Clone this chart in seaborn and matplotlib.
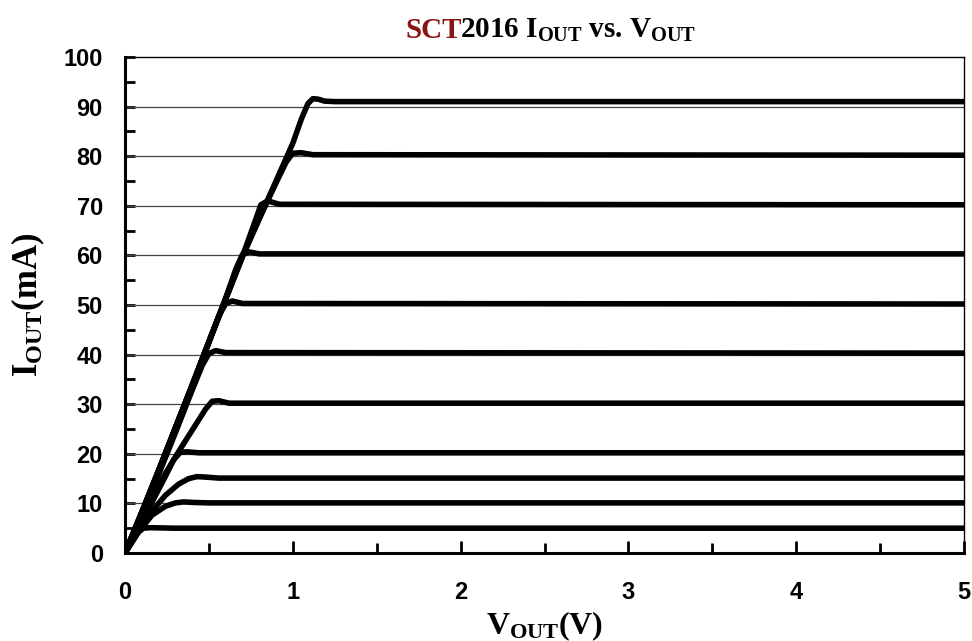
"""
Curvas I_OUT x V_OUT do SCT2016, uma curva por corrente de saída.
"""

import pandas as pd
import seaborn as sns
import matplotlib.pyplot as plt
from matplotlib.ticker import MultipleLocator

# pontos: tensão (V) e corrente (mA) de cada curva
v_05 = [0, 0.04, 0.08, 0.11, 0.15, 0.3, 5]
i_05 = [0, 2.2, 4.2, 5.0, 5.1, 5.0, 5.0]

v_10 = [0, 0.08, 0.16, 0.24, 0.30, 0.35, 0.40, 0.50, 5]
i_10 = [0, 4.2, 7.6, 9.4, 10.1, 10.3, 10.2, 10.1, 10.1]

v_15 = [0, 0.08, 0.16, 0.24, 0.32, 0.38, 0.43, 0.48, 0.56, 5]
i_15 = [0, 4.4, 8.4, 11.6, 13.9, 15.0, 15.4, 15.3, 15.1, 15.1]

v_20 = [0, 0.08, 0.16, 0.24, 0.29, 0.33, 0.37, 0.44, 5]
i_20 = [0, 5.0, 10.2, 15.4, 18.8, 20.3, 20.4, 20.2, 20.2]

v_30 = [0, 0.08, 0.16, 0.24, 0.33, 0.42, 0.48, 0.52, 0.56, 0.62, 5]
i_30 = [0, 5.4, 10.8, 16.0, 21.0, 25.8, 29.0, 30.6, 30.7, 30.2, 30.2]

v_40 = [0, 0.1, 0.2, 0.3, 0.4, 0.46, 0.50, 0.54, 0.60, 5]
i_40 = [0, 7.6, 15.8, 24.2, 32.8, 37.8, 40.2, 40.8, 40.4, 40.3]

v_50 = [0, 0.1, 0.2, 0.3, 0.4, 0.5, 0.56, 0.60, 0.64, 0.70, 5]
i_50 = [0, 8.0, 16.4, 25.0, 33.6, 42.4, 47.8, 50.3, 50.8, 50.3, 50.2]

v_60 = [0, 0.1, 0.2, 0.3, 0.4, 0.5, 0.6, 0.66, 0.70, 0.74, 0.80, 5]
i_60 = [0, 8.2, 16.6, 25.2, 33.8, 42.6, 51.4, 57.2, 60.2, 60.7, 60.3, 60.3]

v_70 = [0, 0.1, 0.2, 0.3, 0.4, 0.5, 0.6, 0.7, 0.77, 0.81, 0.85, 0.92, 5]
i_70 = [0, 8.2, 16.6, 25.2, 33.8, 42.6, 51.2, 59.8, 66.4, 70.2, 71.0, 70.3, 70.2]

v_80 = [0, 0.1, 0.2, 0.3, 0.4, 0.5, 0.6, 0.7, 0.8, 0.9, 0.96, 1.00, 1.05, 1.12, 5]
i_80 = [0, 8.2, 16.6, 25.2, 33.8, 42.6, 51.2, 59.8, 67.4, 74.6, 78.8, 80.6, 80.7, 80.3, 80.2]

v_90 = [0, 0.1, 0.2, 0.3, 0.4, 0.5, 0.6, 0.7, 0.8, 0.9, 1.0, 1.05, 1.09, 1.12, 1.15, 1.19, 1.25, 5]
i_90 = [0, 8.2, 16.6, 25.2, 33.8, 42.6, 51.2, 59.8, 67.4, 75.0, 82.6, 87.4, 90.6, 91.6, 91.5, 91.1, 91.0, 91.0]

curvas = {
    "5": (v_05, i_05), "10": (v_10, i_10), "15": (v_15, i_15),
    "20": (v_20, i_20), "30": (v_30, i_30), "40": (v_40, i_40),
    "50": (v_50, i_50), "60": (v_60, i_60), "70": (v_70, i_70),
    "80": (v_80, i_80), "90": (v_90, i_90),
}

x_ticks = [0, 1, 2, 3, 4, 5]
y_ticks = [0, 10, 20, 30, 40, 50, 60, 70, 80, 90, 100]


def montar_df():
    linhas = []
    for nome, (vs, cs) in curvas.items():
        for v, c in zip(vs, cs):
            linhas.append({"curva": nome, "vout": v, "iout": c})
    return pd.DataFrame(linhas)


def gerar_grafico(df):
    sns.set_theme(style="white")
    plt.rcParams["mathtext.fontset"] = "custom"
    plt.rcParams["mathtext.rm"] = "Liberation Serif:bold"
    plt.rcParams["mathtext.bf"] = "Liberation Serif:bold"
    plt.rcParams["mathtext.it"] = "Liberation Serif:bold"

    fig = plt.figure(figsize=(9.72, 6.41), dpi=100)
    ax = fig.add_axes([0.1286, 0.1373, 0.8632, 0.7738])

    # linhas de grade horizontais
    for y in y_ticks[1:-1]:
        ax.axhline(y, color="#444444", lw=0.9, zorder=1)

    sns.lineplot(data=df, x="vout", y="iout", hue="curva", units="curva",
                 estimator=None, palette=["black"] * len(curvas), lw=4.0,
                 legend=False, ax=ax, zorder=3)

    ax.set_xlim(0, 5)
    ax.set_ylim(0, 100)
    ax.set_xticks(x_ticks)
    ax.set_yticks(y_ticks)
    ax.xaxis.set_minor_locator(MultipleLocator(0.5))
    ax.yaxis.set_minor_locator(MultipleLocator(5))
    ax.tick_params(axis="both", which="both", direction="in", width=2,
                   color="black", bottom=True, left=True, top=False, right=False)
    ax.tick_params(axis="x", which="major", length=9, pad=20)
    ax.tick_params(axis="x", which="minor", length=7)
    ax.tick_params(axis="y", which="both", length=7, pad=16)
    for lbl in ax.get_xticklabels() + ax.get_yticklabels():
        lbl.set_fontfamily("Liberation Sans")
        lbl.set_fontweight("bold")
        lbl.set_fontsize(17)
        lbl.set_color("black")

    ax.spines["left"].set_linewidth(2.2)
    ax.spines["bottom"].set_linewidth(2.2)
    ax.spines["top"].set_linewidth(1.0)
    ax.spines["right"].set_linewidth(1.0)
    for s in ax.spines.values():
        s.set_color("black")

    ax.set_xlabel(r"$\mathrm{V_{OUT}(V)}$", fontsize=23, labelpad=4, color="black")
    ax.set_ylabel(r"$\mathrm{I_{OUT}(mA)}$", fontsize=25, labelpad=12, color="black")

    # título em duas cores
    t1 = fig.text(0.417, 0.941, "SCT", color="#8B1414", fontsize=21,
                  fontfamily="Liberation Serif", fontweight="bold", va="baseline")
    ax.annotate(r"2016 $\mathrm{I_{OUT}}$ vs. $\mathrm{V_{OUT}}$", xy=(1, 0),
                xycoords=t1, xytext=(-1, 0), textcoords="offset points",
                va="bottom", ha="left", fontsize=21,
                fontfamily="Liberation Serif", fontweight="bold", color="black",
                annotation_clip=False)

    fig.savefig("out.png", dpi=100)
    plt.close(fig)


def main():
    df = montar_df()
    gerar_grafico(df)
    return 0


if __name__ == "__main__":
    exit(main())
